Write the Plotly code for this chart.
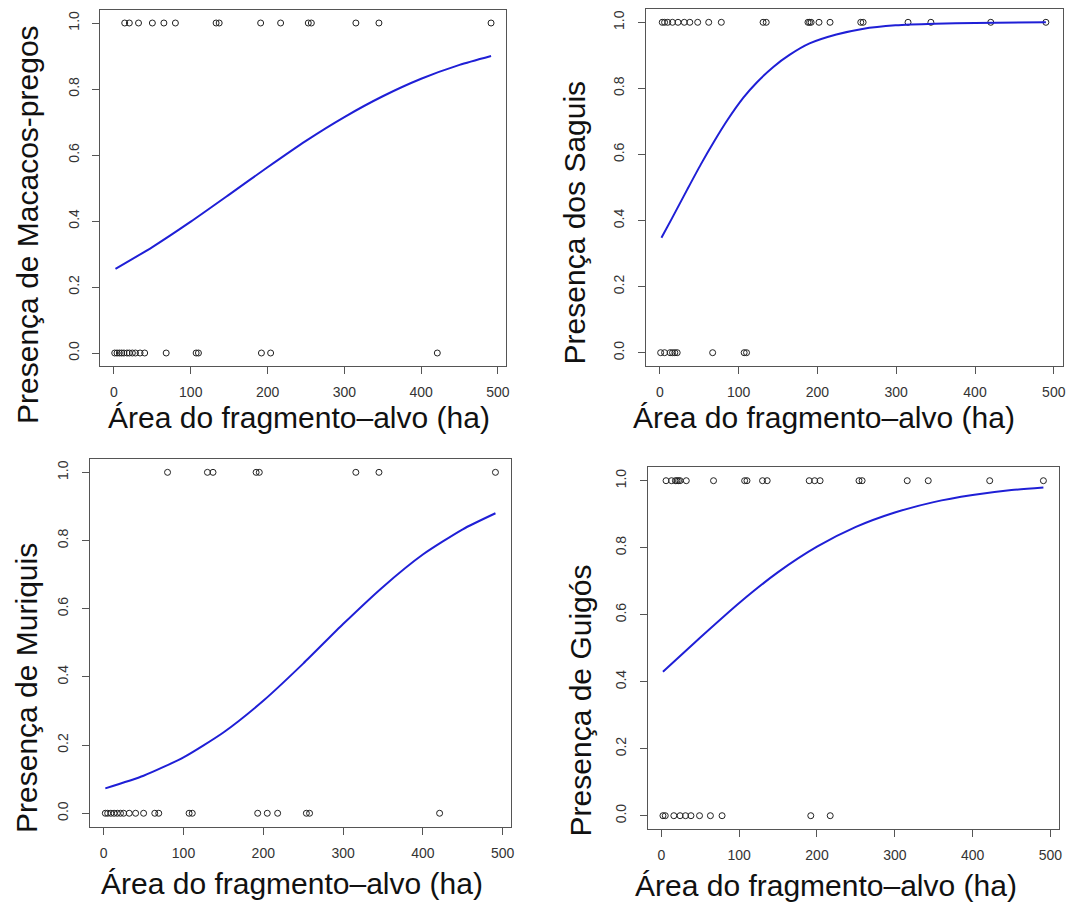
import plotly.graph_objects as go

W, H = 1076, 909
OFF = 8  # default page-body margin of the browser; the figure is drawn this far in

# ---------------- data ----------------
macaco_presente = [14, 20, 32, 50, 65, 80, 133, 137, 191, 217, 253, 257, 315, 345, 491]
macaco_ausente = [1, 4, 7, 10, 13, 17, 20, 24, 28, 34, 40, 68, 107, 110, 192, 204, 421]
macaco_curva_x = [2, 50, 100, 150, 200, 250, 300, 350, 400, 450, 491]
macaco_curva_y = [0.255, 0.321, 0.398, 0.480, 0.563, 0.643, 0.715, 0.778, 0.831, 0.873, 0.900]

sagui_presente = [3, 6, 10, 16, 23, 31, 38, 48, 62, 78, 131, 135, 188, 190, 192, 202, 216,
                  255, 258, 315, 344, 420, 490]
sagui_ausente = [1, 6, 13, 16, 19, 22, 67, 107, 110]
sagui_curva_x = [2, 15, 35, 52, 69, 86, 106, 123, 144, 165, 190, 224, 257, 299, 349, 400, 490]
sagui_curva_y = [0.348, 0.405, 0.495, 0.570, 0.640, 0.705, 0.772, 0.818, 0.865, 0.902,
                 0.936, 0.963, 0.980, 0.991, 0.996, 0.998, 1.000]

muriqui_presente = [80, 130, 137, 191, 195, 316, 345, 491]
muriqui_ausente = [2, 5, 9, 13, 17, 21, 25, 32, 40, 50, 64, 69, 107, 111, 193, 205, 218,
                   254, 258, 421]
muriqui_curva_x = [2, 50, 100, 150, 200, 250, 300, 350, 400, 450, 491]
muriqui_curva_y = [0.073, 0.110, 0.164, 0.237, 0.330, 0.439, 0.555, 0.664, 0.759, 0.833, 0.880]

guigo_presente = [6, 13, 18, 20, 22, 24, 32, 67, 107, 110, 130, 136, 190, 197, 204, 254, 258,
                  316, 343, 422, 491]
guigo_ausente = [2, 5, 16, 24, 31, 38, 49, 63, 78, 192, 217]
guigo_curva_x = [2, 50, 100, 150, 200, 250, 300, 350, 400, 450, 491]
guigo_curva_y = [0.430, 0.532, 0.635, 0.727, 0.803, 0.862, 0.905, 0.936, 0.957, 0.972, 0.980]

x_ticks = [0, 100, 200, 300, 400, 500]
y_ticks = [0.0, 0.2, 0.4, 0.6, 0.8, 1.0]
x_titulo = "Área do fragmento–alvo (ha)"
y_titulos = ["Presença de Macacos-pregos", "Presença dos Saguis",
             "Presença de Muriquis", "Presença de Guigós"]

paineis = [
    (macaco_presente, macaco_ausente, macaco_curva_x, macaco_curva_y),
    (sagui_presente, sagui_ausente, sagui_curva_x, sagui_curva_y),
    (muriqui_presente, muriqui_ausente, muriqui_curva_x, muriqui_curva_y),
    (guigo_presente, guigo_ausente, guigo_curva_x, guigo_curva_y),
]

# ---------------- layout (window pixel boxes) ----------------
# (left, right, top, bottom) of each plotting region in window pixels
caixas = [
    (100.7, 507.9, 9.8, 366.2),
    (647.8, 1065.5, 9.1, 365.9),
    (89.9, 512.9, 458.7, 826.9),
    (649.5, 1062.0, 467.3, 829.1),
]
# axis-title centres (window pixels)
xt_pos = [(300, 418), (826, 418), (293, 883), (828, 885)]
yt_pos = [(27, 224), (577, 222), (26, 688), (582, 700)]

x_range = [-17.6, 511.1]
y_range = [-0.04, 1.04]

FW, FH = W - OFF, H - OFF


def px(x):
    return (x - OFF) / FW


def py(y):
    return 1 - (y - OFF) / FH


FONT = "Liberation Sans, Arial, sans-serif"
fig = go.Figure()
layout = dict(width=FW, height=FH, margin=dict(l=0, r=0, t=0, b=0),
              paper_bgcolor="white", plot_bgcolor="white", showlegend=False,
              font=dict(family=FONT, color="#222"))
annotations = []

for i, ((pres, aus, cx, cy), (l, r, t, b)) in enumerate(zip(paineis, caixas)):
    n = i + 1
    xa = "x" if n == 1 else f"x{n}"
    ya = "y" if n == 1 else f"y{n}"
    pontos_x = pres + aus
    pontos_y = [1] * len(pres) + [0] * len(aus)
    fig.add_trace(go.Scatter(x=pontos_x, y=pontos_y, mode="markers", xaxis=xa, yaxis=ya,
                             marker=dict(symbol="circle-open", size=6, color="#222",
                                         line=dict(width=1, color="#222"))))
    fig.add_trace(go.Scatter(x=cx, y=cy, mode="lines", xaxis=xa, yaxis=ya,
                             line=dict(color="#1f1fd6", width=2, shape="spline",
                                       smoothing=0.6)))
    common = dict(showgrid=False, zeroline=False, showline=True, mirror=True,
                  linecolor="#555", linewidth=1, ticks="outside", ticklen=7,
                  tickcolor="#555", tickwidth=1,
                  tickfont=dict(family=FONT, size=14, color="#333"))
    layout["xaxis" if n == 1 else f"xaxis{n}"] = dict(
        domain=[max(0, px(l)), min(1, px(r))], range=x_range, anchor=ya, tickvals=x_ticks,
        ticklabelstandoff=6, **common)
    layout["yaxis" if n == 1 else f"yaxis{n}"] = dict(
        domain=[max(0, py(b)), min(1, py(t))], range=y_range, anchor=xa, tickvals=y_ticks,
        tickformat=".1f", tickangle=-90, ticklabelstandoff=8, **common)
    annotations.append(dict(text=x_titulo, x=px(xt_pos[i][0]), y=py(xt_pos[i][1]),
                            xref="paper", yref="paper", showarrow=False,
                            xanchor="center", yanchor="middle",
                            font=dict(family=FONT, size=30, color="#111")))
    annotations.append(dict(text=y_titulos[i], x=px(yt_pos[i][0]), y=py(yt_pos[i][1]),
                            xref="paper", yref="paper", showarrow=False, textangle=-90,
                            xanchor="center", yanchor="middle",
                            font=dict(family=FONT, size=30, color="#111")))

layout["annotations"] = annotations
fig.update_layout(**layout)
fig.write_html("out.html")
